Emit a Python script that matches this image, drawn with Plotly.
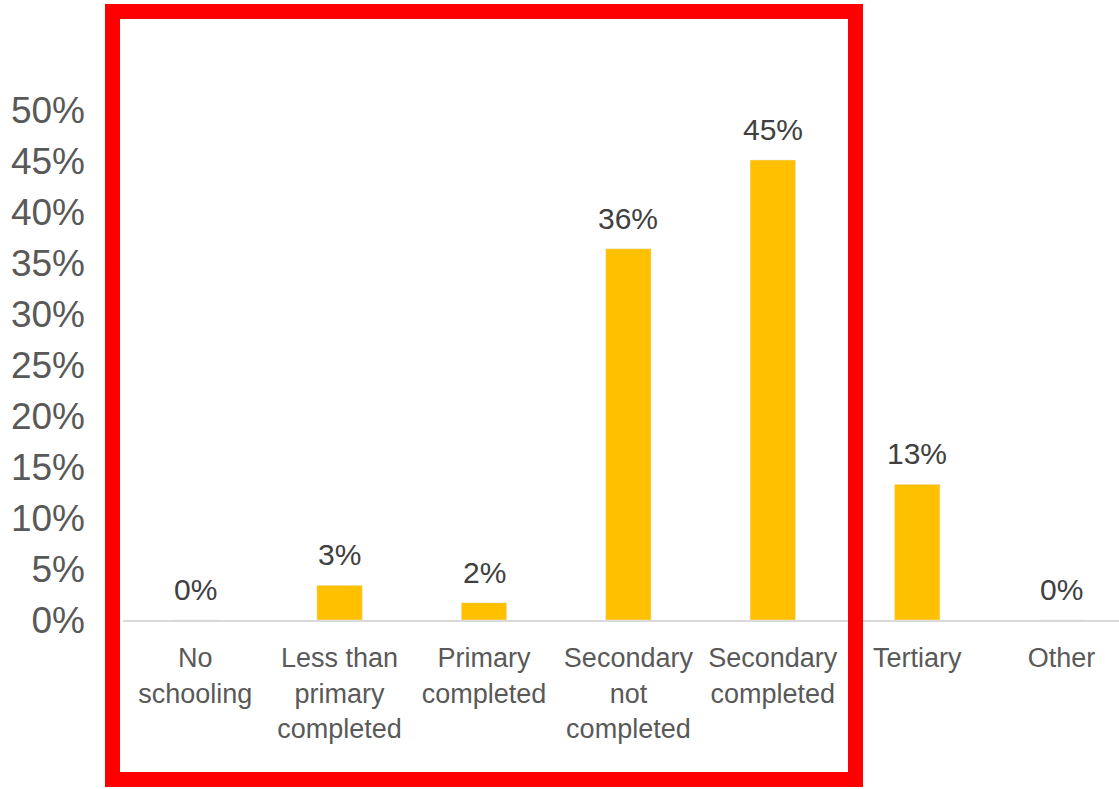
import plotly.graph_objects as go

categories = ["No<br>schooling", "Less than<br>primary<br>completed", "Primary<br>completed",
              "Secondary<br>not<br>completed", "Secondary<br>completed", "Tertiary", "Other"]
values = [0.0, 3.4, 1.7, 36.4, 45.1, 13.3, 0.0]
value_labels = ["0%", "3%", "2%", "36%", "45%", "13%", "0%"]
y_ticks = [0, 5, 10, 15, 20, 25, 30, 35, 40, 45, 50]
y_tick_labels = [f"{t}%" for t in y_ticks]

W, H = 1119, 789
L, R, T, B = 123, 0, 20, 169
pw, ph = W - L - R, H - T - B
cat_px = 144.4
xmax = -0.5 + pw / cat_px
ymax = 50 + (110 - T) / 10.2

FONT = "Liberation Sans Narrow, Arial Narrow, Liberation Sans, Arial, sans-serif"

fig = go.Figure()
fig.add_trace(go.Bar(x=list(range(len(categories))), y=values, marker_color="#FFC000",
                     width=0.315, cliponaxis=False))

for i, (v, lab) in enumerate(zip(values, value_labels)):
    fig.add_annotation(x=i, y=v, text=lab, showarrow=False, yanchor="bottom", yshift=12,
                       font=dict(size=30, color="#404040", family=FONT))

def px_x(p):
    return (p - L) / pw

def px_y(p):
    return (H - B - p) / ph

fig.add_shape(type="rect", xref="paper", yref="paper",
              x0=px_x(112.5), x1=px_x(855.5), y0=px_y(779.5), y1=px_y(11.5),
              line=dict(color="#FF0000", width=15), fillcolor="rgba(0,0,0,0)", layer="above")

fig.update_layout(
    width=W, height=H, margin=dict(l=L, r=R, t=T, b=B),
    paper_bgcolor="white", plot_bgcolor="white", showlegend=False,
    font=dict(family=FONT, color="#595959"),
    xaxis=dict(range=[-0.5, xmax], tickmode="array", tickvals=list(range(len(categories))),
               ticktext=categories, showgrid=False, zeroline=False,
               showline=True, linecolor="#D9D9D9", linewidth=2,
               tickfont=dict(size=27, color="#595959", family=FONT), ticks="",
               ticklabelstandoff=13, tickangle=0, fixedrange=True),
    yaxis=dict(range=[0, ymax], tickmode="array", tickvals=y_ticks, ticktext=y_tick_labels,
               showgrid=False, zeroline=False, showline=False,
               tickfont=dict(size=37, color="#595959", family=FONT), ticks="",
               ticklabelstandoff=37, fixedrange=True),
    bargap=0.68,
)

fig.write_html("out.html")
